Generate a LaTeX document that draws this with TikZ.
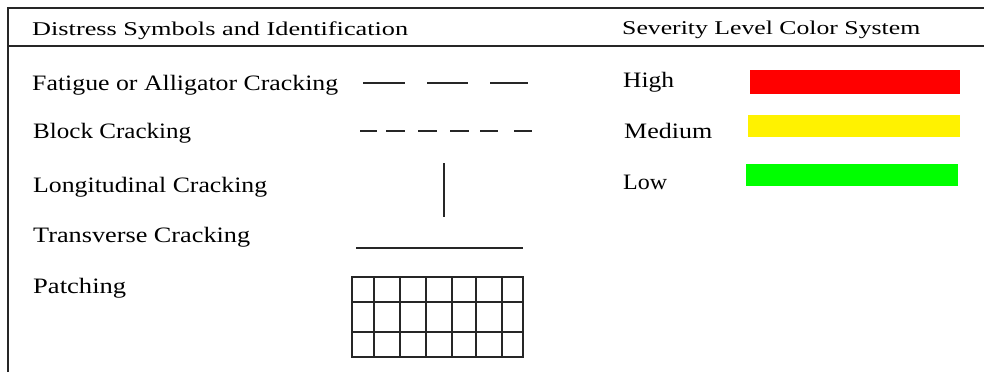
\documentclass[tikz,border=0pt]{standalone}
\usepackage{fontspec}
\setmainfont{Liberation Serif}
\usepackage{graphicx}
% stretch a text horizontally to a given width, keeping its height
\newcommand\widetext[2]{\resizebox{#1}{\height}{#2}}

\begin{document}
\begin{tikzpicture}[x=1pt,y=-1pt,
  lbl/.style={anchor=base west, inner sep=0pt, font=\fontsize{22}{24}\selectfont},
  head/.style={anchor=base west, inner sep=0pt, font=\fontsize{19.5}{22}\selectfont},
  frame/.style={line width=1.6pt, black!85},
  crack/.style={line width=1.8pt, black!85},
  cell/.style={line width=1.5pt, black!85}]
\useasboundingbox (0,0) rectangle (984,372);
\fill[white] (0,0) rectangle (984,372);

% table frame and header rule
\draw[frame] (8,372) -- (8,8) -- (984,8);
\draw[frame] (8,46) -- (984,46);

% headers
\node[head] (h1) at (32,35) {\widetext{376pt}{Distress Symbols and Identification}};
\node[head] (h2) at (622,34) {\widetext{298pt}{Severity Level Color System}};

% distress names
\node[lbl] (fat) at (32,90) {\widetext{306pt}{Fatigue or Alligator Cracking}};
\node[lbl] (blk) at (33,138) {\widetext{158pt}{Block Cracking}};
\node[lbl] (lon) at (33,192) {\widetext{234pt}{Longitudinal Cracking}};
\node[lbl] (tra) at (33,242) {\widetext{217pt}{Transverse Cracking}};
\node[lbl] (pat) at (33,293) {\widetext{93pt}{Patching}};

% fatigue: long dashes
\foreach \a/\b in {363/405, 427/468, 490/528}
  \draw[crack] (\a,83) -- (\b,83);
% block: short dashes
\foreach \a/\b in {360/377, 386/405, 418/437, 450/469, 480/498, 514/532}
  \draw[crack] (\a,131) -- (\b,131);
% longitudinal
\draw[crack] (444,163) -- (444,217);
% transverse
\draw[crack] (356,248) -- (523,248);
% patching grid
\draw[cell] (352,277) rectangle (523,357);
\foreach \x in {374,400,426,452,476,502}
  \draw[cell] (\x,277) -- (\x,357);
\foreach \y in {302,332}
  \draw[cell] (352,\y) -- (523,\y);

% severity levels
\node[lbl] (hi) at (623,87) {\widetext{51pt}{High}};
\node[lbl] (me) at (624,138) {\widetext{88pt}{Medium}};
\node[lbl] (lo) at (623,189) {\widetext{44pt}{Low}};
\fill[red] (750,70) rectangle (960,94);
\fill[yellow] (748,115) rectangle (960,137);
\fill[green] (746,164) rectangle (958,186);
\end{tikzpicture}
\end{document}
